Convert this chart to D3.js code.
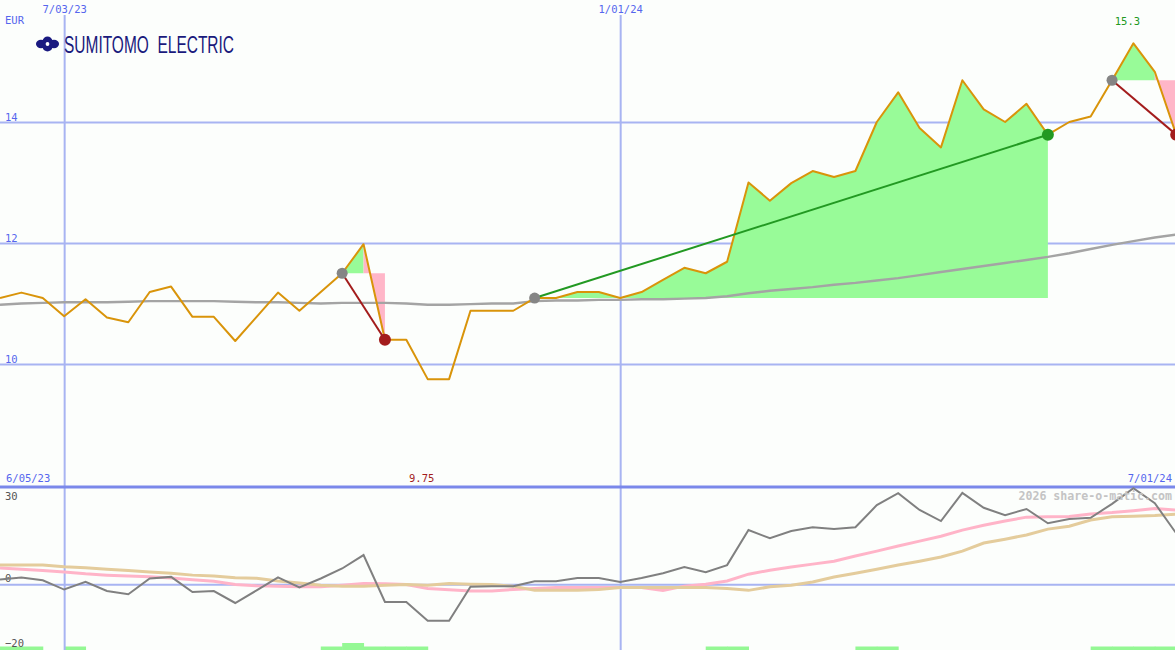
<!DOCTYPE html>
<html><head><meta charset="utf-8">
<script src="https://cdn.jsdelivr.net/npm/d3@7"></script>
<style>
body{margin:0;background:#fcfefc;overflow:hidden}
svg{display:block}
text{font-family:"DejaVu Sans Mono",monospace;}
</style>
</head><body>
<svg id="c" width="1175" height="650"></svg>
<script>
// ---------- data ----------
const firstWeek = "2023-06-12";
const lastWeek  = "2024-07-01";
const price = [11.09,11.18,11.09,10.79,11.07,10.77,10.69,11.19,11.28,10.78,
               10.78,10.38,10.78,11.18,10.88,11.19,11.50,11.98,10.40,10.40,
               9.75,9.75,10.88,10.88,10.88,11.09,11.09,11.19,11.19,11.09,
               11.19,11.39,11.59,11.50,11.69,13.00,12.70,12.99,13.19,13.09,
               13.19,14.00,14.49,13.90,13.58,14.69,14.21,14.00,14.30,13.79,
               14.00,14.09,14.69,15.30,14.83,13.79];
const movingAvg = [10.98,11.00,11.01,11.02,11.02,11.02,11.03,11.04,11.04,11.04,
                   11.04,11.03,11.02,11.02,11.01,11.00,11.01,11.01,11.01,11.00,
                   10.98,10.98,10.99,11.00,11.00,11.04,11.05,11.05,11.06,11.06,
                   11.07,11.07,11.08,11.09,11.12,11.17,11.21,11.24,11.27,11.31,
                   11.34,11.38,11.42,11.47,11.52,11.57,11.62,11.67,11.72,11.77,
                   11.83,11.90,11.97,12.03,12.09,12.14];
const oscillator = [1.45,2.1,1.2,-1.65,0.7,-2.1,-3.1,1.75,2.26,-2.4,
                    -2.1,-5.8,-1.9,2.1,-1.0,1.75,4.85,9.0,-5.5,-5.5,
                    -11.3,-11.3,-0.8,-0.6,-0.6,0.9,0.9,1.9,1.9,0.7,
                    1.9,3.4,5.3,3.7,5.9,16.7,14.2,16.4,17.6,17.0,
                    17.6,24.4,28.1,22.9,19.5,28.2,23.6,21.3,23.2,18.8,
                    20.1,20.5,24.8,29.6,25.0,15.7];
const oscPink = [5.0,4.6,4.2,3.8,3.2,2.8,2.5,2.3,1.9,1.4,
                 0.9,-0.1,-0.5,-0.6,-0.8,-0.8,-0.3,0.2,0.15,-0.1,
                 -1.3,-1.7,-2.1,-2.1,-1.6,-1.3,-1.0,-1.0,-1.0,-1.0,
                 -1.0,-1.9,-0.6,0.0,1.0,3.1,4.3,5.3,6.2,7.1,
                 8.7,10.2,11.8,13.3,14.8,16.7,18.2,19.5,20.7,20.8,
                 20.9,21.7,22.1,22.7,23.4,22.9];
const oscTan = [5.9,5.9,5.9,5.4,5.1,4.6,4.2,3.8,3.4,2.8,
                2.5,2.0,1.8,1.0,0.4,-0.3,-0.6,-0.6,-0.3,-0.1,
                -0.3,0.2,0.0,-0.1,-0.6,-1.9,-1.9,-1.9,-1.6,-1.0,
                -1.0,-1.0,-1.0,-1.0,-1.3,-1.9,-0.8,-0.3,0.7,2.2,
                3.4,4.6,5.9,7.1,8.4,10.2,12.7,13.9,15.2,17.0,
                17.9,19.8,20.8,21.0,21.2,21.6];
const signal = [1,1,0,1,0,0,0,0,0,0,
                0,0,0,0,0,1,2,1,1,1,
                0,0,0,0,0,0,0,0,0,0,
                0,0,0,1,1,0,0,0,0,0,
                1,1,0,0,0,0,0,0,0,0,
                0,1,1,1,1,0];
const tradeEntry = [16,25,52];
const tradeExit  = [18,49,55];
const priceTicks = [10,12,14];
const dateTicks  = ["2023-07-03","2024-01-01"];
const oscTicks   = [30,0,-20];
const panelDates = ["6/05/23","7/01/24"];
const brand = "SUMITOMO\u00A0\u00A0ELECTRIC";
const currency = "EUR";
const copyright = "2026 share-o-matic.com";

// ---------- setup ----------
const W = 1175, H = 650;
const svg = d3.select("#c");
const parse = d3.utcParse("%Y-%m-%d");
const weeks = d3.utcMonday.range(parse(firstWeek), d3.utcDay.offset(parse(lastWeek),1));
const x = d3.scaleUtc().domain([weeks[0], weeks[weeks.length-1]]).range([0, 1176.2]);
const yP = d3.scaleLinear().domain([10,14]).range([364,122]);
const yO = d3.scaleLinear().domain([-20,30]).range([649,487]);
const yS = d3.scaleLinear().domain([0,2]).range([650,643]);

const C = {
  grid:"#a8b4f2", sep:"#7a88ea", blue:"#5566ee", price:"#d9940a",
  ma:"#a4a4a4", green:"#98fb98", pink:"#ffb6c8", win:"#229922", loss:"#a31c1c",
  osc:"#808080", oPink:"#ffb4c8", oTan:"#e4cc9c", bar:"#94f894"
};

svg.append("rect").attr("width",W).attr("height",H).attr("fill","#fcfefc");

// bottom signal bars
svg.append("g").selectAll("rect").data(signal.map((v,i)=>({v,i})).filter(d=>d.v>0 && d.i<weeks.length-1))
  .join("rect")
  .attr("x", d=>x(weeks[d.i])).attr("width", d=>x(weeks[d.i+1])-x(weeks[d.i])+0.5)
  .attr("y", d=>yS(d.v)).attr("height", d=>yS(0)-yS(d.v)).attr("fill", C.bar);

// horizontal price grid via axis
const fs = 10.5;
const gP = svg.append("g")
  .call(d3.axisRight(yP).tickValues(priceTicks).tickSize(W).tickFormat(d3.format("d")));
gP.select(".domain").remove();
gP.selectAll("line").attr("stroke",C.grid).attr("stroke-width",2);
gP.selectAll("text").attr("x",5).attr("dy",-2).attr("y",0).attr("text-anchor","start")
  .attr("font-size",fs).attr("fill",C.blue).style("font-family","DejaVu Sans Mono");

// oscillator zero line + ticks
const gO = svg.append("g")
  .call(d3.axisRight(yO).tickValues(oscTicks).tickSize(W).tickFormat(d3.format("d")));
gO.select(".domain").remove();
gO.selectAll(".tick line").attr("stroke", d=> d===0 ? C.grid : "none").attr("stroke-width",2);
gO.selectAll("text").attr("x",5).attr("y",0).attr("dy", d=> d===30 ? 12 : -3)
  .attr("text-anchor","start").attr("font-size",fs).attr("fill","#555")
  .style("font-family","DejaVu Sans Mono");

// vertical date grid via axis
const gX = svg.append("g")
  .call(d3.axisBottom(x).tickValues(dateTicks.map(parse)).tickSize(H).tickFormat(d3.utcFormat("%-m/%d/%y")));
gX.select(".domain").remove();
gX.selectAll("line").attr("stroke",C.grid).attr("stroke-width",2).attr("y1",15);
gX.selectAll("text").attr("y",13).attr("dy",0).attr("font-size",fs).attr("fill",C.blue)
  .style("font-family","DejaVu Sans Mono");

// panel separator
svg.append("line").attr("x1",0).attr("x2",W).attr("y1",yO(30)).attr("y2",yO(30))
  .attr("stroke",C.sep).attr("stroke-width",3);

// trade fills (one path per colour to avoid seams)
const seg = d3.line();
let greenD = "", pinkD = "";
tradeEntry.forEach((e,k)=>{
  const ep = price[e];
  for(let i=e;i<tradeExit[k];i++){
    const pts = [[x(weeks[i]),yP(ep)],[x(weeks[i]),yP(price[i])],[x(weeks[i+1]),yP(price[i+1])],[x(weeks[i+1]),yP(ep)]];
    if (price[i+1] >= ep) greenD += seg(pts)+"Z"; else pinkD += seg(pts)+"Z";
  }
});
svg.append("path").attr("d",greenD).attr("fill",C.green);
svg.append("path").attr("d",pinkD).attr("fill",C.pink);

// moving average
const lineOf = (arr, ys) => d3.line().x((d,i)=>x(weeks[i])).y(d=>ys(d))(arr);
svg.append("path").attr("d", lineOf(movingAvg,yP)).attr("fill","none").attr("stroke",C.ma).attr("stroke-width",2.4);

// oscillator lines
svg.append("path").attr("d", lineOf(oscPink,yO)).attr("fill","none").attr("stroke",C.oPink).attr("stroke-width",3);
svg.append("path").attr("d", lineOf(oscTan,yO)).attr("fill","none").attr("stroke",C.oTan).attr("stroke-width",3);
svg.append("path").attr("d", lineOf(oscillator,yO)).attr("fill","none").attr("stroke",C.osc).attr("stroke-width",2);

// price line
svg.append("path").attr("d", lineOf(price,yP)).attr("fill","none").attr("stroke",C.price).attr("stroke-width",2).attr("stroke-linejoin","round");

// trade lines and markers
tradeEntry.forEach((e,k)=>{
  const xi = tradeExit[k];
  const win = price[xi] > price[e];
  const col = win ? C.win : C.loss;
  svg.append("line").attr("x1",x(weeks[e])).attr("y1",yP(price[e]))
    .attr("x2",x(weeks[xi])).attr("y2",yP(price[xi])).attr("stroke",col).attr("stroke-width",2);
  svg.append("circle").attr("cx",x(weeks[e])).attr("cy",yP(price[e])).attr("r",5.5).attr("fill","#858585");
  svg.append("circle").attr("cx",x(weeks[xi])).attr("cy",yP(price[xi])).attr("r",6).attr("fill",col);
});

// min / max labels
const iMin = d3.minIndex(price), iMax = d3.maxIndex(price);
svg.append("text").attr("x",x(weeks[iMin])-6).attr("y",482).attr("text-anchor","middle")
  .attr("font-size",fs).attr("fill","#a31c1c").text(d3.format(".2f")(price[iMin]));
svg.append("text").attr("x",x(weeks[iMax])-6).attr("y",25).attr("text-anchor","middle")
  .attr("font-size",fs).attr("fill","#229922").text(d3.format(".1f")(price[iMax]));

// currency
svg.append("text").attr("x",5).attr("y",24).attr("font-size",fs).attr("fill",C.blue).text(currency);

// bottom panel date range
svg.append("text").attr("x",6).attr("y",482).attr("font-size",fs).attr("fill",C.blue).text(panelDates[0]);
svg.append("text").attr("x",1172).attr("y",482).attr("text-anchor","end").attr("font-size",fs).attr("fill",C.blue).text(panelDates[1]);

// copyright
svg.append("text").attr("x",1172).attr("y",500).attr("text-anchor","end").attr("font-size",11.6)
  .attr("font-weight","bold").attr("fill","#c4c4c4").text(copyright);

// logo
const navy = "#1a1a80";
const lg = svg.append("g").attr("transform","translate(47.5,44)");
[[-6.5,0,5,4.2],[6.5,0,5,4.2],[0,-3.8,4.6,3.6],[0,3.8,4.6,3.6]].forEach(e=>{
  lg.append("ellipse").attr("cx",e[0]).attr("cy",e[1]).attr("rx",e[2]).attr("ry",e[3]).attr("fill",navy);
});
lg.append("path").attr("d","M-11.5,0 L0,-7 L11.5,0 L0,7Z").attr("fill",navy);
lg.append("circle").attr("r",1.9).attr("fill","#fff");
svg.append("text").attr("x",64).attr("y",52.5).attr("font-size",23.5)
  .style("font-family","'Liberation Sans Narrow','Liberation Sans',Arial,sans-serif")
  .attr("textLength",170).attr("lengthAdjust","spacingAndGlyphs")
  .attr("fill","#1a1a7c").text(brand);
</script>
</body></html>
